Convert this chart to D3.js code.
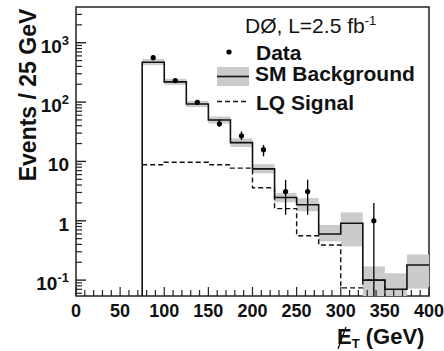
<!DOCTYPE html>
<html>
<head>
<meta charset="utf-8">
<script src="https://cdn.jsdelivr.net/npm/d3@7"></script>
<style>
  html, body { margin: 0; padding: 0; background: #fff; }
  svg { display: block; font-family: "Liberation Sans", Arial, Helvetica, sans-serif; }
</style>
</head>
<body>
<div id="chart"></div>
<script>
// Missing ET distribution, 25 GeV bins from 75 to 400 GeV
const binEdges = [75, 100, 125, 150, 175, 200, 225, 250, 275, 300, 325, 350, 375, 400];

// SM background (solid) with its uncertainty band
const bkg   = [470, 219, 93, 50, 20.7, 7.5, 2.47, 1.86, 0.6, 0.91, 0.1, 0.07, 0.18];
const bkgLo = [420, 195, 82, 43.5, 17.5, 6.3, 2.05, 1.45, 0.45, 0.37, 0.03, 0.03, 0.072];
const bkgHi = [530, 246, 105, 57, 24.5, 9.0, 2.95, 2.4, 0.85, 1.38, 0.17, 0.13, 0.27];

// LQ signal (dashed)
const signal = [8.8, 9.7, 9.7, 8.8, 7.7, 3.6, 1.6, 0.56, 0.39, 0.074, 0.1, 0.01, 0.01];

// Data points (null = empty bin) with error bars
const dataVal = [560, 230, 99, 43, 27, 15.8, 3.1, 3.1, null, null, 1.0, null, null];
const dataLo  = [540, 218, 92, 38, 23, 12.2, 1.26, 1.26, null, null, 0.001, null, null];
const dataHi  = [585, 242, 106, 51, 32, 19, 4.9, 4.9, null, null, 2.0, null, null];

// axis ticks
const xMajor = [0, 50, 100, 150, 200, 250, 300, 350, 400];
const yDecades = [0.1, 1, 10, 100, 1000];
const yLabels = [["10", "-1"], ["1", null], ["10", null], ["10", "2"], ["10", "3"]];

const W = 444, H = 351;
const frame = { left: 76, right: 429, top: 7, bottom: 296 };

const svg = d3.select('#chart').append('svg')
    .attr('width', W)
    .attr('height', H);

const x = d3.scaleLinear().domain([0, 400]).range([frame.left, frame.right]);
const y = d3.scaleLog().domain([0.054, 4000]).range([frame.bottom, frame.top]);

svg.append('clipPath').attr('id', 'plotclip')
  .append('rect')
    .attr('x', frame.left).attr('y', frame.top)
    .attr('width', frame.right - frame.left)
    .attr('height', frame.bottom - frame.top);

// frame
svg.append('rect')
    .attr('x', frame.left).attr('y', frame.top)
    .attr('width', frame.right - frame.left)
    .attr('height', frame.bottom - frame.top)
    .attr('fill', 'none')
    .attr('stroke', '#222')
    .attr('stroke-width', 1.5);

const plot = svg.append('g').attr('clip-path', 'url(#plotclip)');

const bins = bkg.map((v, i) => ({
    x0: binEdges[i], x1: binEdges[i + 1],
    bkg: v, lo: bkgLo[i], hi: bkgHi[i], sig: signal[i],
    d: dataVal[i], dlo: dataLo[i], dhi: dataHi[i]
}));

// uncertainty band
plot.selectAll('.band')
  .data(bins)
  .enter().append('rect')
    .attr('class', 'band')
    .attr('x', d => x(d.x0))
    .attr('width', d => x(d.x1) - x(d.x0))
    .attr('y', d => y(d.hi))
    .attr('height', d => y(d.lo) - y(d.hi))
    .attr('fill', '#cbcbcb');

// step path helper
function stepPath(vals, fromBottom) {
    const p = d3.path();
    if (fromBottom) p.moveTo(x(binEdges[0]), frame.bottom + 2);
    vals.forEach((v, i) => {
        const yy = y(v);
        if (i === 0 && !fromBottom) p.moveTo(x(binEdges[0]), yy);
        else p.lineTo(x(binEdges[i]), yy);
        p.lineTo(x(binEdges[i + 1]), yy);
    });
    return p.toString();
}

// LQ signal
plot.append('path')
    .attr('d', stepPath(signal, false))
    .attr('fill', 'none')
    .attr('stroke', '#111')
    .attr('stroke-width', 1.4)
    .attr('stroke-dasharray', '5,3');

// SM background
plot.append('path')
    .attr('d', stepPath(bkg, true))
    .attr('fill', 'none')
    .attr('stroke', '#111')
    .attr('stroke-width', 1.6);

// data
const pts = bins.filter(d => d.d !== null);
plot.selectAll('.err')
  .data(pts)
  .enter().append('line')
    .attr('class', 'err')
    .attr('x1', d => x((d.x0 + d.x1) / 2))
    .attr('x2', d => x((d.x0 + d.x1) / 2))
    .attr('y1', d => y(d.dhi))
    .attr('y2', d => y(d.dlo))
    .attr('stroke', '#000')
    .attr('stroke-width', 1.3);

plot.selectAll('.pt')
  .data(pts)
  .enter().append('circle')
    .attr('class', 'pt')
    .attr('cx', d => x((d.x0 + d.x1) / 2))
    .attr('cy', d => y(d.d))
    .attr('r', 2.6)
    .attr('fill', '#000');

// x ticks
const axisG = svg.append('g').attr('stroke', '#222');
d3.range(0, 401, 10).forEach(v => {
    const major = v % 50 === 0;
    axisG.append('line')
        .attr('x1', x(v)).attr('x2', x(v))
        .attr('y1', frame.bottom).attr('y2', frame.bottom - (major ? 9 : 6))
        .attr('stroke-width', 1.2);
});
svg.selectAll('.xlab')
  .data(xMajor)
  .enter().append('text')
    .attr('class', 'xlab')
    .attr('x', d => x(d))
    .attr('y', 317)
    .attr('text-anchor', 'middle')
    .attr('font-size', 18)
    .attr('font-weight', 'bold')
    .attr('fill', '#111')
    .text(d => d);

// y ticks
const yMinor = [];
[0.01, 0.1, 1, 10, 100, 1000].forEach(dec => {
    for (let k = 2; k <= 9; k++) yMinor.push(dec * k);
});
yMinor.filter(v => v > 0.054 && v < 4000).forEach(v => {
    axisG.append('line')
        .attr('x1', frame.left).attr('x2', frame.left + 6)
        .attr('y1', y(v)).attr('y2', y(v))
        .attr('stroke-width', 1.2);
});
yDecades.forEach(v => {
    axisG.append('line')
        .attr('x1', frame.left).attr('x2', frame.left + 10)
        .attr('y1', y(v)).attr('y2', y(v))
        .attr('stroke-width', 1.4);
});
yDecades.forEach((v, i) => {
    const t = svg.append('text')
        .attr('x', 69)
        .attr('y', y(v) + 10)
        .attr('text-anchor', 'end')
        .attr('font-size', 19)
        .attr('font-weight', 'bold')
        .attr('fill', '#111');
    t.append('tspan').text(yLabels[i][0]);
    if (yLabels[i][1]) {
        t.append('tspan')
            .attr('dy', -8)
            .attr('font-size', 13)
            .text(yLabels[i][1]);
    }
});

// axis titles
svg.append('text')
    .attr('transform', 'translate(36,95) rotate(-90)')
    .attr('text-anchor', 'middle')
    .attr('font-size', 23)
    .attr('font-weight', 'bold')
    .attr('fill', '#111')
    .text('Events / 25 GeV');

const xt = svg.append('text')
    .attr('x', 337)
    .attr('y', 344)
    .attr('font-size', 22)
    .attr('font-weight', 'bold')
    .attr('fill', '#111');
xt.append('tspan').text('E');
xt.append('tspan').attr('dy', 4).attr('font-size', 13).text('T');
xt.append('tspan').attr('dy', -4).text(' (GeV)');
// slash through the E (missing transverse energy)
svg.append('line')
    .attr('x1', 338).attr('y1', 349)
    .attr('x2', 346).attr('y2', 327)
    .attr('stroke', '#111')
    .attr('stroke-width', 1.3);

// legend
const leg = svg.append('g').attr('fill', '#111');
const title = leg.append('text')
    .attr('x', 245).attr('y', 33)
    .attr('font-size', 21);
title.append('tspan').text('DØ, L=2.5 fb');
title.append('tspan').attr('dy', -8).attr('font-size', 13).text('-1');

leg.append('circle').attr('cx', 229).attr('cy', 52).attr('r', 2.6).attr('fill', '#000');
leg.append('text').attr('x', 256).attr('y', 60)
    .attr('font-size', 21).attr('font-weight', 'bold').text('Data');

leg.append('rect').attr('x', 217).attr('y', 67).attr('width', 32).attr('height', 19).attr('fill', '#cbcbcb');
leg.append('line').attr('x1', 217).attr('x2', 249).attr('y1', 76.5).attr('y2', 76.5)
    .attr('stroke', '#111').attr('stroke-width', 1.6);
leg.append('text').attr('x', 255).attr('y', 81)
    .attr('font-size', 21).attr('font-weight', 'bold').text('SM Background');

leg.append('line').attr('x1', 217).attr('x2', 249).attr('y1', 101.5).attr('y2', 101.5)
    .attr('stroke', '#111').attr('stroke-width', 1.4).attr('stroke-dasharray', '5,3');
leg.append('text').attr('x', 256).attr('y', 110)
    .attr('font-size', 21).attr('font-weight', 'bold').text('LQ Signal');
</script>
</body>
</html>
